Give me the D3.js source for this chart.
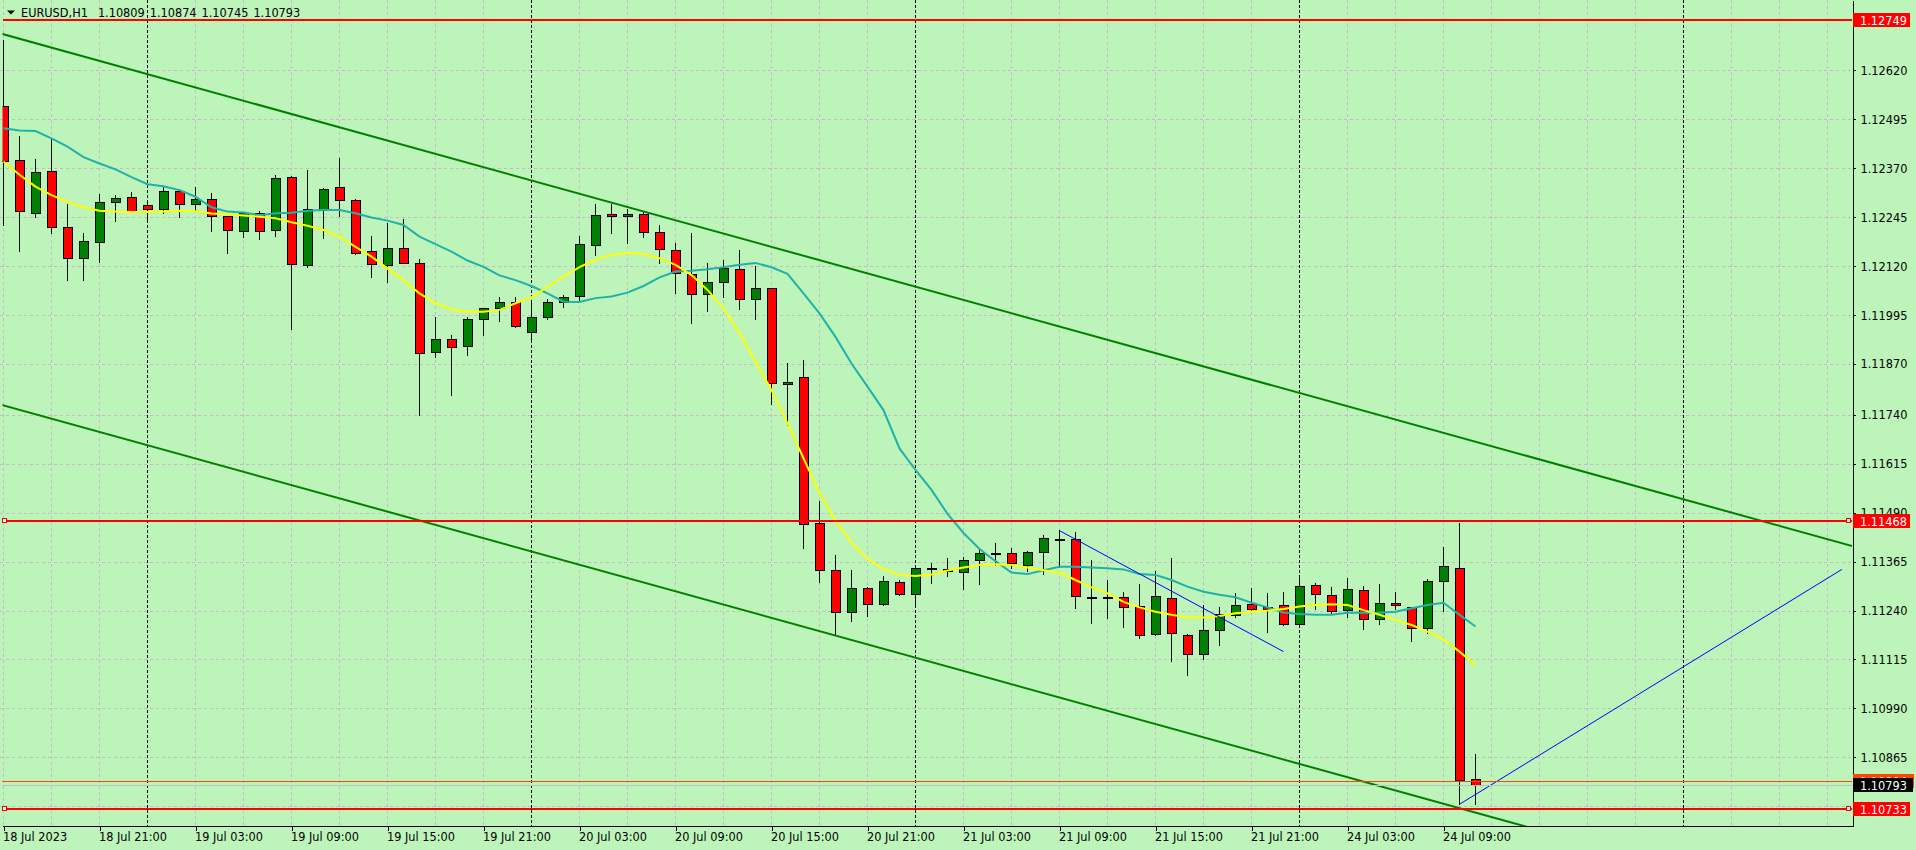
<!DOCTYPE html>
<html><head><meta charset="utf-8">
<script src="https://cdn.jsdelivr.net/npm/d3@7/dist/d3.min.js"></script>
<style>
html,body{margin:0;padding:0;background:#bdf4b9;overflow:hidden}
svg{display:block}
.t{font-family:"DejaVu Sans Condensed","DejaVu Sans",sans-serif;font-stretch:condensed;font-size:12.6px}
</style></head><body><svg id="c" width="1916" height="850"></svg>
<script>
// ---------------- data ----------------
const symbol = "EURUSD,H1";
const timeLabels = ["18 Jul 2023","18 Jul 21:00","19 Jul 03:00","19 Jul 09:00","19 Jul 15:00","19 Jul 21:00",
  "20 Jul 03:00","20 Jul 09:00","20 Jul 15:00","20 Jul 21:00","21 Jul 03:00","21 Jul 09:00","21 Jul 15:00",
  "21 Jul 21:00","24 Jul 03:00","24 Jul 09:00"];
const barsPerLabel = 6;
const daySeparatorBars = [9, 33, 57, 81, 105];
const priceTicks = [1.12620,1.12495,1.12370,1.12245,1.12120,1.11995,1.11870,1.11740,1.11615,1.11490,
  1.11365,1.11240,1.11115,1.10990,1.10865,1.10740];

const open = [
1.12529,1.12390,1.12256,1.12363,1.12219,1.12140,1.12181,1.12283,1.12296,1.12275,
1.12265,1.12312,1.12278,1.12290,1.12247,1.12209,1.12255,1.12211,1.12347,1.12122,
1.12262,1.12321,1.12288,1.12158,1.12122,1.12165,1.12129,1.11900,1.11933,1.11915,
1.11984,1.12012,1.12029,1.11951,1.11991,1.12029,1.12044,1.12173,1.12252,1.12247,
1.12252,1.12206,1.12160,1.12099,1.12048,1.12078,1.12112,1.12035,1.12063,1.11818,
1.11836,1.11463,1.11343,1.11235,1.11297,1.11256,1.11312,1.11281,1.11348,1.11345,
1.11338,1.11368,1.11388,1.11386,1.11356,1.11389,1.11422,1.11422,1.11275,1.11275,
1.11274,1.11251,1.11179,1.11271,1.11177,1.11128,1.11189,1.11228,1.11257,1.11248,
1.11253,1.11205,1.11304,1.11279,1.11241,1.11292,1.11218,1.11258,1.11248,1.11195,
1.11315,1.11348,1.10809];
const high = [
1.12697,1.12452,1.12393,1.12444,1.12278,1.12204,1.12304,1.12301,1.12309,1.12289,
1.12321,1.12316,1.12321,1.12306,1.12249,1.12259,1.12261,1.12352,1.12349,1.12365,
1.12319,1.12395,1.12290,1.12197,1.12231,1.12239,1.12137,1.11989,1.11943,1.11989,
1.12014,1.12040,1.12040,1.12027,1.12036,1.12046,1.12197,1.12278,1.12278,1.12265,
1.12257,1.12224,1.12178,1.12204,1.12129,1.12135,1.12160,1.12119,1.12064,1.11873,
1.11880,1.11520,1.11381,1.11343,1.11301,1.11327,1.11317,1.11352,1.11361,1.11373,
1.11376,1.11396,1.11412,1.11399,1.11391,1.11432,1.11445,1.11440,1.11368,1.11317,
1.11287,1.11307,1.11340,1.11373,1.11179,1.11253,1.11248,1.11284,1.11297,1.11284,
1.11287,1.11322,1.11310,1.11299,1.11322,1.11302,1.11307,1.11287,1.11249,1.11320,
1.11401,1.11463,1.10874];
const low = [
1.12225,1.12159,1.12246,1.12205,1.12084,1.12084,1.12130,1.12236,1.12258,1.12238,
1.12255,1.12246,1.12263,1.12210,1.12154,1.12195,1.12190,1.12197,1.11958,1.12118,
1.12192,1.12248,1.12150,1.12093,1.12080,1.12127,1.11739,1.11888,1.11791,1.11893,
1.11943,1.11979,1.11964,1.11931,1.11984,1.12016,1.12031,1.12148,1.12205,1.12180,
1.12195,1.12127,1.12050,1.11974,1.12004,1.12042,1.12009,1.11984,1.11767,1.11713,
1.11399,1.11314,1.11180,1.11214,1.11227,1.11255,1.11279,1.11252,1.11309,1.11329,
1.11294,1.11307,1.11356,1.11348,1.11340,1.11333,1.11350,1.11246,1.11209,1.11220,
1.11197,1.11169,1.11177,1.11110,1.11074,1.11115,1.11151,1.11223,1.11242,1.11186,
1.11204,1.11204,1.11243,1.11233,1.11224,1.11192,1.11205,1.11243,1.11163,1.11182,
1.11238,1.10745,1.10745];
const close = [
1.12389,1.12260,1.12359,1.12219,1.12140,1.12183,1.12283,1.12293,1.12261,1.12265,
1.12312,1.12278,1.12290,1.12247,1.12211,1.12255,1.12209,1.12344,1.12124,1.12265,
1.12316,1.12288,1.12153,1.12124,1.12165,1.12129,1.11897,1.11933,1.11912,1.11984,
1.12012,1.12029,1.11967,1.11991,1.12029,1.12042,1.12176,1.12250,1.12247,1.12252,
1.12206,1.12163,1.12101,1.12048,1.12078,1.12114,1.12035,1.12063,1.11820,1.11825,
1.11460,1.11343,1.11235,1.11297,1.11256,1.11315,1.11281,1.11348,1.11348,1.11341,
1.11368,1.11386,1.11388,1.11361,1.11389,1.11424,1.11422,1.11276,1.11275,1.11275,
1.11248,1.11177,1.11276,1.11182,1.11128,1.11189,1.11230,1.11253,1.11243,1.11243,
1.11205,1.11302,1.11281,1.11238,1.11294,1.11218,1.11258,1.11253,1.11195,1.11315,
1.11353,1.10806,1.10793];
const maFast = [
1.12387,1.12353,1.12323,1.12301,1.12284,1.12270,1.12261,1.12259,1.12258,1.12258,
1.12259,1.12261,1.12260,1.12254,1.12252,1.12249,1.12246,1.12242,1.12232,1.12223,
1.12212,1.12195,1.12169,1.12144,1.12114,1.12084,1.12050,1.12025,1.12009,1.12003,
1.12003,1.12008,1.12025,1.12040,1.12067,1.12093,1.12117,1.12137,1.12149,1.12154,
1.12151,1.12140,1.12123,1.12097,1.12059,1.12012,1.11948,1.11876,1.11803,1.11718,
1.11629,1.11540,1.11469,1.11414,1.11372,1.11346,1.11331,1.11328,1.11332,1.11342,
1.11350,1.11356,1.11358,1.11356,1.11350,1.11343,1.11337,1.11318,1.11299,1.11284,
1.11262,1.11248,1.11237,1.11229,1.11222,1.11222,1.11226,1.11233,1.11237,1.11240,
1.11244,1.11250,1.11254,1.11256,1.11254,1.11241,1.11229,1.11216,1.11203,1.11186,
1.11166,1.11135,1.11101];
const maSlow = [
1.12472,1.12466,1.12465,1.12446,1.12425,1.12398,1.12382,1.12367,1.12347,1.12329,
1.12324,1.12314,1.12297,1.12270,1.12259,1.12257,1.12250,1.12255,1.12256,1.12261,
1.12263,1.12263,1.12255,1.12244,1.12236,1.12225,1.12195,1.12176,1.12157,1.12134,
1.12118,1.12096,1.12084,1.12069,1.12050,1.12029,1.12028,1.12038,1.12042,1.12052,
1.12069,1.12091,1.12106,1.12108,1.12112,1.12117,1.12123,1.12128,1.12117,1.12100,
1.12050,1.11999,1.11939,1.11871,1.11812,1.11752,1.11654,1.11599,1.11548,1.11487,
1.11438,1.11397,1.11366,1.11337,1.11333,1.11343,1.11352,1.11352,1.11350,1.11348,
1.11345,1.11333,1.11331,1.11318,1.11301,1.11288,1.11280,1.11274,1.11260,1.11248,
1.11235,1.11231,1.11229,1.11229,1.11234,1.11234,1.11234,1.11237,1.11246,1.11254,
1.11260,1.11229,1.11199];
// horizontal levels, bid/ask
const levels = [1.12749, 1.11468, 1.10733];
const selectedLevels = [1.11468, 1.10733];
const bidPrice = 1.10793;
const askPrice = 1.10804;
// trend lines: [bar, price] anchor pairs
const channelUpper = [[0, 1.12712], [115, 1.11411]];
const channelLower = [[0, 1.11764], [91, 1.10735]];
const blueLine1 = [[66, 1.11444], [80, 1.11135]];
const blueLine2 = [[91, 1.10745], [114.9, 1.11345]];

// ---------------- layout ----------------
const W = 1916, H = 850, plotRight = 1852, plotBottom = 826, plotLeft = 2.5;
const BG = "#bdf4b9", GRID = "#c4bcc4";
const lastBar = 115.5;
const x = d3.scaleLinear().domain([0, lastBar]).range([3.5, 3.5 + 16 * lastBar]);
const y = d3.scaleLinear().domain([1.106895, 1.127996]).range([plotBottom, 0]);
const cy = v => Math.round(y(v)) + 0.5;

const svg = d3.select("#c");
svg.append("rect").attr("width", W).attr("height", H).attr("fill", BG);
svg.append("defs").append("clipPath").attr("id", "plot")
  .append("rect").attr("x", plotLeft).attr("y", 0).attr("width", plotRight - plotLeft).attr("height", plotBottom);

// grid
const grid = svg.append("g").attr("shape-rendering", "crispEdges");
grid.selectAll("line.h").data(priceTicks).join("line")
  .attr("x1", 0).attr("x2", plotRight).attr("y1", d => cy(d)).attr("y2", d => cy(d))
  .attr("stroke", GRID).attr("stroke-dasharray", "3,3");
const vBars = d3.range(0, 115, 3).filter(b => !daySeparatorBars.includes(b));
grid.selectAll("line.v").data(vBars).join("line")
  .attr("x1", d => x(d)).attr("x2", d => x(d)).attr("y1", 0).attr("y2", plotBottom)
  .attr("stroke", GRID).attr("stroke-dasharray", "3,3");
grid.selectAll("line.s").data(daySeparatorBars).join("line")
  .attr("x1", d => x(d)).attr("x2", d => x(d)).attr("y1", 0).attr("y2", plotBottom)
  .attr("stroke", "#000").attr("stroke-dasharray", "3,2");

const plot = svg.append("g").attr("clip-path", "url(#plot)");

// candles
const bars = open.map((o, i) => ({i, o, h: high[i], l: low[i], c: close[i]}));
const cg = plot.append("g").attr("shape-rendering", "crispEdges");
cg.selectAll("line.w").data(bars).join("line")
  .attr("x1", d => x(d.i)).attr("x2", d => x(d.i))
  .attr("y1", d => Math.round(y(d.h))).attr("y2", d => Math.round(y(d.l)) + 1)
  .attr("stroke", "#000");
cg.selectAll("rect.b").data(bars.filter(d => d.o !== d.c)).join("rect")
  .attr("x", d => x(d.i) - 4.5)
  .attr("y", d => cy(Math.max(d.o, d.c)))
  .attr("width", 9)
  .attr("height", d => Math.max(1, cy(Math.min(d.o, d.c)) - cy(Math.max(d.o, d.c))))
  .attr("fill", d => d.c > d.o ? "#008000" : "#ff0000")
  .attr("stroke", "#000");
cg.selectAll("line.d").data(bars.filter(d => d.o === d.c)).join("line")
  .attr("x1", d => x(d.i) - 5).attr("x2", d => x(d.i) + 5)
  .attr("y1", d => cy(d.o)).attr("y2", d => cy(d.o))
  .attr("stroke", "#000").attr("stroke-width", 2);

// moving averages
const maLine = d3.line().x((d, i) => x(i)).y(d => y(d));
plot.append("path").datum(maSlow).attr("d", maLine).attr("fill", "none")
  .attr("stroke", "#20b2aa").attr("stroke-width", 2);
plot.append("path").datum(maFast).attr("d", maLine).attr("fill", "none")
  .attr("stroke", "#ffff00").attr("stroke-width", 2);

// trend lines (rays extended across plot for channel)
function extend(p, a, b) {
  const s = (p[1][1] - p[0][1]) / (p[1][0] - p[0][0]);
  return [[a, p[0][1] + s * (a - p[0][0])], [b, p[0][1] + s * (b - p[0][0])]];
}
const tl = d3.line().x(d => x(d[0])).y(d => y(d[1]));
[extend(channelUpper, -1, lastBar + 1), extend(channelLower, -1, lastBar + 1)].forEach(p =>
  plot.append("path").attr("d", tl(p)).attr("fill", "none").attr("stroke", "#008000").attr("stroke-width", 2));
[blueLine1, blueLine2].forEach(p =>
  plot.append("path").attr("d", tl(p)).attr("fill", "none").attr("stroke", "#0000ff").attr("stroke-width", 1));

// bid / ask lines
const bl = plot.append("g").attr("shape-rendering", "crispEdges");
bl.append("line").attr("x1", 0).attr("x2", plotRight).attr("y1", cy(askPrice)).attr("y2", cy(askPrice)).attr("stroke", "#ff4500");
bl.append("line").attr("x1", 0).attr("x2", plotRight).attr("y1", cy(bidPrice)).attr("y2", cy(bidPrice)).attr("stroke", "#c0c0c0");

// horizontal levels
const lv = svg.append("g").attr("shape-rendering", "crispEdges");
lv.selectAll("line").data(levels).join("line")
  .attr("x1", plotLeft).attr("x2", plotRight)
  .attr("y1", d => Math.round(y(d))).attr("y2", d => Math.round(y(d)))
  .attr("stroke", "#ff0000").attr("stroke-width", 2);
selectedLevels.forEach(v => {
  [5, plotRight - 3].forEach(cx => {
    lv.append("rect").attr("x", Math.round(cx) - 2.5).attr("y", Math.round(y(v)) - 2.5)
      .attr("width", 4).attr("height", 4).attr("fill", "#fff").attr("stroke", "#ff0000").attr("stroke-width", 1.5);
  });
});

// frame
const fr = svg.append("g").attr("shape-rendering", "crispEdges");
fr.append("line").attr("x1", plotLeft).attr("x2", plotRight + 0.5).attr("y1", plotBottom + 0.5).attr("y2", plotBottom + 0.5).attr("stroke", "#000");

// price axis
const ay = d3.axisRight(y).tickValues(priceTicks).tickSize(3).tickSizeOuter(0).tickPadding(5)
  .tickFormat(d3.format(".5f"));
const gy = svg.append("g").attr("transform", `translate(${plotRight + 0.5},0)`).call(ay);
gy.select(".domain").attr("stroke", "#000").attr("shape-rendering", "crispEdges");
gy.selectAll(".tick line").attr("stroke", "#000").attr("shape-rendering", "crispEdges");
gy.selectAll("text").attr("class", "t").attr("fill", "#000");
gy.attr("font-family", null).attr("font-size", null);

// time axis
const ax = d3.axisBottom(x).tickValues(timeLabels.map((_, i) => i * barsPerLabel)).tickSize(4).tickSizeOuter(0)
  .tickFormat((d, i) => timeLabels[i]);
const gx = svg.append("g").attr("transform", `translate(0,${plotBottom + 0.5})`).call(ax);
gx.select(".domain").remove();
gx.selectAll(".tick line").attr("stroke", "#000").attr("shape-rendering", "crispEdges");
gx.selectAll("text").attr("class", "t").attr("fill", "#000").attr("text-anchor", "start")
  .attr("x", -1).attr("y", 6).attr("dy", "0.71em");
gx.attr("font-family", null).attr("font-size", null);

// price labels on axis
function priceLabel(v, bg, fg, w) {
  const g = svg.append("g");
  const yy = Math.round(y(v));
  g.append("rect").attr("x", plotRight + 1).attr("y", yy - 7).attr("width", w).attr("height", 14).attr("fill", bg);
  g.append("text").attr("class", "t").attr("x", plotRight + 8).attr("y", yy).attr("dy", "0.36em")
    .attr("fill", fg).text(d3.format(".5f")(v));
}
levels.forEach(v => priceLabel(v, "#ff0000", "#ffffff", 57));
priceLabel(askPrice, "#ff4500", "#ffffff", 61);
priceLabel(bidPrice, "#000000", "#ffffff", 60);

// header
const hd = svg.append("g");
hd.append("path").attr("d", "M7,10.5 L15,10.5 L11,14.5 Z").attr("fill", "#000");
const last = open.length - 1;
const headerParts = [symbol, ...[open[last], high[last], low[last], close[last]].map(d3.format(".5f"))];
let hx = 21;
headerParts.forEach((s, i) => {
  const t = hd.append("text").attr("class", "t").attr("x", hx).attr("y", 17).attr("fill", "#000").text(s);
  hx += t.node().getComputedTextLength() + (i === 0 ? 10 : 5);
});
</script></body></html>
